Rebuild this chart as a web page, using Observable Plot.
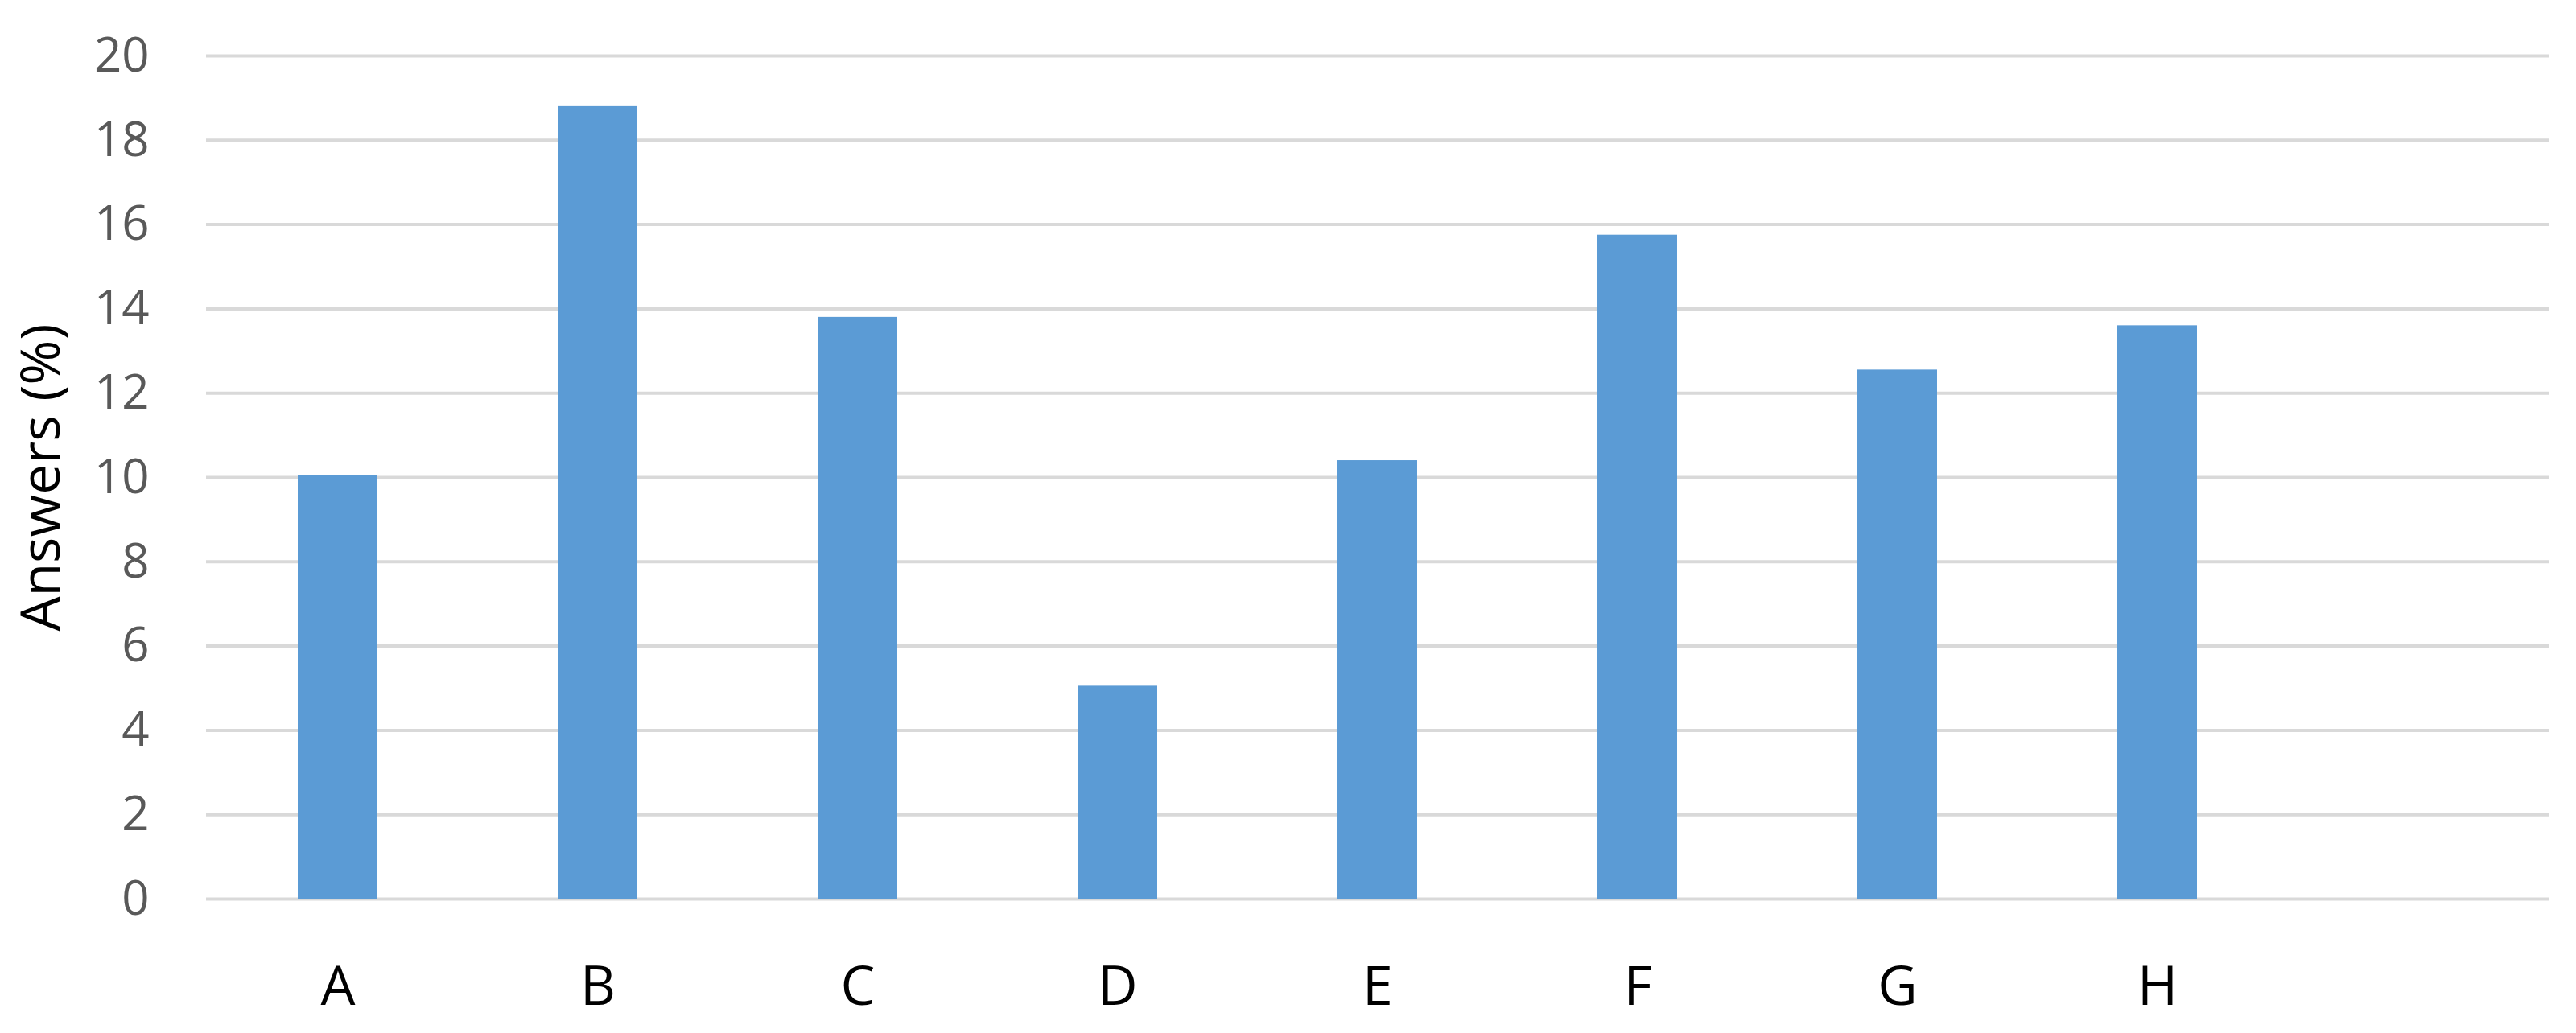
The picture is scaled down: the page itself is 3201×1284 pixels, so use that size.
<!DOCTYPE html>
<html>
<head>
<meta charset="utf-8">
<script src="https://cdn.jsdelivr.net/npm/d3@7"></script>
<script src="https://cdn.jsdelivr.net/npm/@observablehq/plot@0.6"></script>
<style>
  html, body { margin: 0; padding: 0; background: #ffffff; }
  #chart svg g[aria-label="y-axis label"] text { font-size: 68px; fill: #000000; }
</style>
</head>
<body>
<div id="chart"></div>
<script>
// Data
const categories = ["A", "B", "C", "D", "E", "F", "G", "H"];
const answers = [10.05, 18.8, 13.8, 5.05, 10.4, 15.75, 12.55, 13.6];
const extraSlot = [""]; // empty trailing category slot present in the original axis
const yTicks = [0, 2, 4, 6, 8, 10, 12, 14, 16, 18, 20];
const yLabel = "Answers (%)";

const data = categories.map((c, i) => ({category: c, value: answers[i]}));
const xDomain = [...categories, ...extraSlot];

const chart = Plot.plot({
  width: 3201,
  height: 1284,
  marginLeft: 256,
  marginRight: 34,
  marginTop: 69,
  marginBottom: 167,
  style: {fontFamily: "'Open Sans', sans-serif", background: "#ffffff", overflow: "visible"},
  x: {domain: xDomain, padding: 0, label: null},
  y: {domain: [0, 20], label: null},
  marks: [
    Plot.gridY(yTicks, {stroke: "#d9d9d9", strokeOpacity: 1, strokeWidth: 4}),
    Plot.barY(data, {x: "category", y: "value", fill: "#5b9bd5", insetLeft: 112, insetRight: 112}),
    Plot.axisX({tickSize: 0, tickPadding: 83, fontSize: 68, color: "#000000", label: null}),
    Plot.axisY({
      ticks: yTicks,
      tickSize: 0,
      tickPadding: 71,
      fontSize: 60,
      color: "#595959",
      label: yLabel,
      labelAnchor: "center",
      labelArrow: "none",
      labelOffset: 231
    })
  ]
});
document.getElementById("chart").appendChild(chart);
</script>
</body>
</html>
